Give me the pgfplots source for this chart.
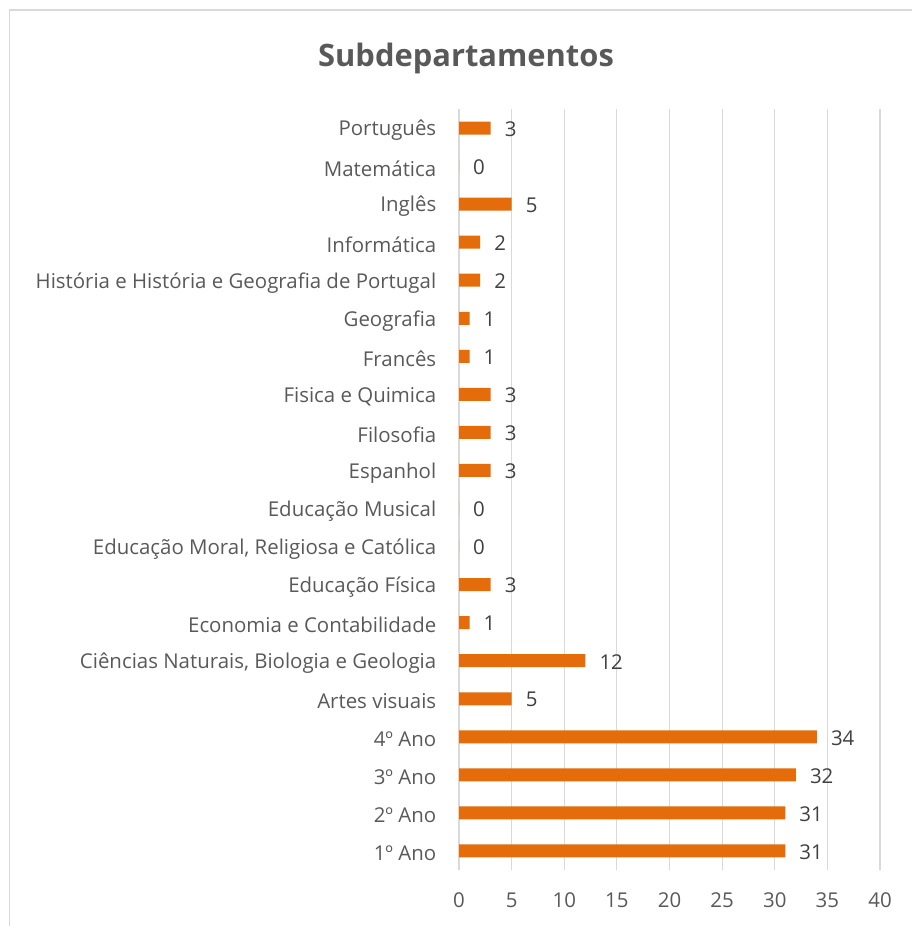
\documentclass[border=0pt]{standalone}
\usepackage{fontspec}
\setmainfont{Open Sans}
\usepackage{pgfplots}
\pgfplotsset{compat=1.18}
\definecolor{barra}{RGB}{228,108,10}
\definecolor{texto}{RGB}{89,89,89}
\definecolor{rotulo}{RGB}{64,64,64}
\definecolor{grade}{RGB}{217,217,217}
\begin{document}
\begin{tikzpicture}[x=1bp,y=1bp]
\useasboundingbox (0,0) rectangle (912,926);
\draw[grade, line width=1.5bp] (9.5,0) -- (9.5,916) -- (912,916);
\node[font=\fontsize{31}{36}\selectfont\bfseries, text=texto] at (466,868) {Subdepartamentos};
\begin{axis}[
  at={(459bp,56bp)}, anchor=south west,
  width=421bp, height=761bp, scale only axis,
  xbar, bar width=13bp,
  xmin=0, xmax=40, ymin=-0.5, ymax=19.5,
  xtick={0,5,...,40},
  ytick={0,...,19},
  yticklabels={1º Ano, 2º Ano, 3º Ano, 4º Ano, Artes visuais,
    {Ciências Naturais, Biologia e Geologia}, Economia e Contabilidade,
    Educação Física, {Educação Moral, Religiosa e Católica}, Educação Musical,
    Espanhol, Filosofia, Fisica e Quimica, Francês, Geografia,
    História e História e Geografia de Portugal, Informática, Inglês,
    Matemática, Português},
  xmajorgrids,
  major grid style={grade, line width=1.2bp},
  axis line style={draw=none},
  tick style={draw=none},
  /pgf/number format/assume math mode=true,
  tick label style={font=\fontsize{20.5}{24}\selectfont, text=texto},
  xticklabel style={yshift=-19bp},
  yticklabel style={xshift=-15bp, yshift=-2.5bp},
  nodes near coords,
  every node near coord/.append style={font=\fontsize{20.5}{24}\selectfont, text=rotulo, anchor=west, inner sep=0pt, xshift=14bp, yshift=-1bp},
]
\addplot[fill=barra, draw=none] coordinates {
  (31,0) (31,1) (32,2) (34,3) (5,4) (12,5) (1,6) (3,7) (0,8) (0,9)
  (3,10) (3,11) (3,12) (1,13) (1,14) (2,15) (2,16) (5,17) (0,18) (3,19)};
\end{axis}
\end{tikzpicture}
\end{document}
